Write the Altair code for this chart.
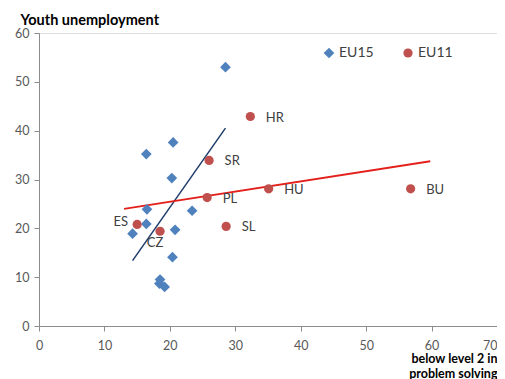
import altair as alt
import pandas as pd

# EU15 (blue diamonds)
eu15_x = [28.5, 20.5, 16.4, 20.3, 16.5, 23.4, 16.4, 14.3, 20.8, 20.4, 18.5, 18.4, 19.2]
eu15_y = [53.0, 37.6, 35.2, 30.3, 23.9, 23.6, 20.9, 18.9, 19.7, 14.1, 9.5, 8.7, 8.0]

# EU11 (red circles) with labels
eu11_lab = ["HR", "SR", "PL", "SL", "ES", "CZ", "HU", "BU"]
eu11_x = [32.3, 26.0, 25.7, 28.6, 15.0, 18.5, 35.1, 56.8]
eu11_y = [42.9, 33.9, 26.3, 20.4, 20.8, 19.4, 28.1, 28.1]

groups = ["EU15", "EU11"]
x_ticks = [0, 10, 20, 30, 40, 50, 60, 70]
y_ticks = [0, 10, 20, 30, 40, 50, 60]
red_extent = [13.0, 59.8]

df = pd.DataFrame(
    {"x": eu15_x + eu11_x,
     "y": eu15_y + eu11_y,
     "g": ["EU15"] * len(eu15_x) + ["EU11"] * len(eu11_x),
     "lab": [""] * len(eu15_x) + eu11_lab}
)

FONT = "Lato"
xs = alt.Scale(domain=[0, 70], nice=False)
ys = alt.Scale(domain=[0, 60], nice=False)

xax = alt.Axis(values=x_ticks, grid=False, domainColor="#8c8c8c", tickColor="#8c8c8c",
               tickSize=5, labelFontSize=12.5, labelColor="#595959", labelFont=FONT,
               labelPadding=8,
               labelAlign=alt.ExprRef(expr="datum.value == 70 ? 'right' : 'center'"),
               title=["below level 2 in", "problem solving"],
               titleFont=FONT, titleFontSize=12.5, titleFontWeight="bold", titleColor="#000000",
               titleAlign="right", titleAnchor="end", titleX=458, titleY=36.5,
               titleBaseline="alphabetic", titleLineHeight=15)
yax = alt.Axis(values=y_ticks, grid=False, domainColor="#8c8c8c", tickColor="#8c8c8c",
               tickSize=5, labelFontSize=12.5, labelColor="#595959", labelFont=FONT,
               labelPadding=5, title="Youth unemployment", titleAngle=0,
               titleFont=FONT, titleFontSize=14.5, titleFontWeight="bold", titleColor="#000000",
               titleAlign="left", titleX=-19, titleY=-9, titleBaseline="alphabetic")

color = alt.Color("g:N", scale=alt.Scale(domain=groups, range=["#4F81BD", "#C0504D"]),
                  legend=alt.Legend(orient="none", legendX=283, legendY=13, direction="horizontal",
                                    title=None, labelFont=FONT, labelFontSize=14,
                                    labelColor="#404040", symbolSize=90, columnPadding=27,
                                    labelOffset=3, symbolStrokeWidth=0))
shape = alt.Shape("g:N", scale=alt.Scale(domain=groups, range=["diamond", "circle"]), legend=None)

base = alt.Chart(df)

pts = base.mark_point(filled=True, opacity=1, size=110).encode(
    x=alt.X("x:Q", scale=xs, axis=xax),
    y=alt.Y("y:Q", scale=ys, axis=yax),
    color=color,
    shape=shape,
    size=alt.Size("g:N", scale=alt.Scale(domain=groups, range=[115, 85]), legend=None),
)

blue_line = base.transform_filter(alt.datum.g == "EU15").transform_regression(
    "x", "y").mark_line(color="#1F3D6B", strokeWidth=1.5).encode(
    x=alt.X("x:Q", scale=xs), y=alt.Y("y:Q", scale=ys))

red_line = base.transform_filter(alt.datum.g == "EU11").transform_regression(
    "x", "y", extent=red_extent).mark_line(color="#E3201B", strokeWidth=1.8).encode(
    x=alt.X("x:Q", scale=xs), y=alt.Y("y:Q", scale=ys))

lab_style = dict(font=FONT, fontSize=13, color="#404040", baseline="middle")

lab_right = base.transform_filter(
    (alt.datum.g == "EU11") & (alt.datum.lab != "ES") & (alt.datum.lab != "CZ")
).mark_text(align="left", dx=15.5, dy=1, **lab_style).encode(
    x=alt.X("x:Q", scale=xs), y=alt.Y("y:Q", scale=ys), text="lab:N")

lab_es = base.transform_filter(alt.datum.lab == "ES").mark_text(
    align="right", dx=-9, dy=-2, **lab_style).encode(
    x=alt.X("x:Q", scale=xs), y=alt.Y("y:Q", scale=ys), text="lab:N")

lab_cz = base.transform_filter(alt.datum.lab == "CZ").mark_text(
    align="center", dx=-5, dy=12, **lab_style).encode(
    x=alt.X("x:Q", scale=xs), y=alt.Y("y:Q", scale=ys), text="lab:N")

chart = alt.layer(blue_line, red_line, pts, lab_right, lab_es, lab_cz).properties(
    width=458, height=293,
    autosize=alt.AutoSizeParams(type="none"),
    padding={"left": 31, "top": 25, "right": 0, "bottom": 53},
).configure_view(stroke=None).configure(background="white")

chart.save("out.html", embed_options={"renderer": "svg", "actions": False})
